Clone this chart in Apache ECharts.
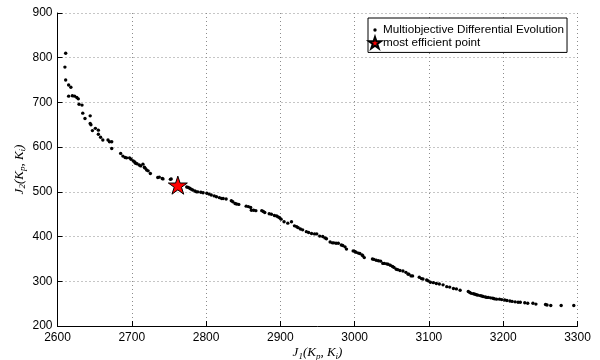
<!DOCTYPE html>
<html>
<head>
<meta charset="utf-8">
<script src="https://cdn.jsdelivr.net/npm/echarts@6/dist/echarts.min.js"></script>
<style>html,body{margin:0;padding:0;background:#fff}#c{width:600px;height:360px}</style>
</head>
<body>
<div id="c"></div>
<script>
// ---- data ----
const xTicks = [2600, 2700, 2800, 2900, 3000, 3100, 3200, 3300];
const yTicks = [200, 300, 400, 500, 600, 700, 800, 900];
const seriesNames = ['Multiobjective Differential Evolution', 'most efficient point'];
const paretoJ1 = [2611,2610,2611,2615,2618,2615,2620,2623,2626,2628,2629,2633,2634,2637,2644,2644,2645,2647,2651,2655,2655,2658,2661,2668,2670,2673,2673,
2685,2688,2691,2693,2697,2699,2702,2704,2705,2707,2710,2712,2715,2717,2718,2720,2722,2725,2735,2737,2741,2742,2752,2753,
2774,2776,2778,2780,2782,2785,2787,2789,2793,2796,2801,2804,2807,2811,2814,2818,2821,2823,2827,2834,2836,2839,2841,2844,2854,2857,2860,2861,2864,2867,2875,2877,2879,2885,2888,2892,2895,2897,2899,2901,2905,2910,2915,2919,2922,2924,2927,2930,2935,2938,2942,2946,2949,2953,2957,2960,2962,2967,2970,2972,2975,2978,2982,2984,2987,2989,2998,3000,3002,3005,3007,3010,3011,3013,3024,3026,3029,3032,3035,3038,3040,3043,3045,3048,3051,3053,3056,3058,3061,3065,3069,3072,3073,3076,3078,3087,3090,3092,3097,3099,3102,3106,3110,3114,3119,3124,3128,3133,3137,3142,3153,3155,3157,3160,3162,3164,3166,3169,3171,3173,3176,3178,3180,3183,3186,3188,3191,3195,3198,3202,3205,3209,3212,3216,3220,3223,3229,3233,3240,3244,3257,3259,3264,3278,3295];
const paretoJ2 = [810,779,750,739,734,714,715,714,711,708,696,694,676,664,670,653,650,637,642,638,629,622,616,616,612,612,597,
586,580,577,576,576,573,569,567,564,563,560,558,562,555,553,549,547,541,532,533,530,529,528,529,
511,510,508,506,504,502,500,500,499,498,497,495,493,491,489,487,485,485,484,480,478,474,473,472,468,467,465,459,459,458,458,456,454,451,450,447,446,444,442,439,433,430,433,424,422,420,417,415,411,409,407,406,406,401,400,397,395,388,386,386,385,385,381,380,377,372,368,367,365,363,362,359,357,353,350,349,347,346,345,340,340,339,338,336,333,331,327,326,324,323,320,316,316,312,312,309,306,305,303,301,298,297,295,294,292,288,287,284,283,280,277,275,273,272,271,270,269,268,267,266,265,264,264,263,262,261,260,260,259,258,257,256,255,254,253,253,252,251,251,249,248,247,246,246,246];
const bestJ1 = [2762];
const bestJ2 = [515];

// ---- build ----
const starPath = 'path://M50 0 L61.23 34.55 L97.55 34.55 L68.17 55.9 L79.39 90.45 L50 69.1 L20.61 90.45 L31.83 55.9 L2.45 34.55 L38.77 34.55 Z';
const dotPath = 'path://M0 0 M12 12 M6 4.3 A1.7 1.7 0 1 1 6 7.7 A1.7 1.7 0 1 1 6 4.3 Z';
const pareto = paretoJ1.map((v, i) => [v, paretoJ2[i]]);
const best = bestJ1.map((v, i) => [v, bestJ2[i]]);

const sansFont = 'Liberation Sans, Arial, sans-serif';
const serif = 'Liberation Serif, Times New Roman, serif';
const richName = {
  m: {fontFamily: serif, fontStyle: 'italic', fontSize: 13, color: '#000', lineHeight: 16, verticalAlign: 'middle'},
  s: {fontFamily: serif, fontStyle: 'italic', fontSize: 9, color: '#000', lineHeight: 9, verticalAlign: 'bottom'}
};
const gridLine = {show: true, lineStyle: {color: '#8c8c8c', width: 1, type: [1, 3]}};
const plain = v => String(v);

const chart = echarts.init(document.getElementById('c'), null, {renderer: 'canvas'});
chart.setOption({
  animation: false,
  backgroundColor: '#fff',
  grid: {left: 57.5, right: 22.5, top: 13, bottom: 34, containLabel: false, outerBoundsMode: 'none'},
  xAxis: {
    type: 'value', min: xTicks[0], max: xTicks[xTicks.length - 1], interval: 100,
    axisLine: {show: true, onZero: false, lineStyle: {color: '#000', width: 1}},
    axisTick: {show: true, inside: true, length: 5, lineStyle: {color: '#000'}},
    axisLabel: {margin: 6, fontSize: 12, fontFamily: sansFont, color: '#000', formatter: plain},
    splitLine: gridLine,
    name: '{m|J}{s|1}{m|(K}{s|p}{m|, K}{s|i}{m|)}',
    nameLocation: 'middle', nameGap: 19, nameMoveOverlap: false,
    nameTextStyle: {rich: richName}
  },
  yAxis: {
    type: 'value', min: yTicks[0], max: yTicks[yTicks.length - 1], interval: 100,
    axisLine: {show: true, onZero: false, lineStyle: {color: '#000', width: 1}},
    axisTick: {show: true, inside: true, length: 5, lineStyle: {color: '#000'}},
    axisLabel: {margin: 5, fontSize: 12, fontFamily: sansFont, color: '#000', formatter: plain},
    splitLine: gridLine,
    name: '{m|J}{s|2}{m|(K}{s|p}{m|, K}{s|i}{m|)}',
    nameLocation: 'middle', nameGap: 30, nameRotate: 90, nameMoveOverlap: false,
    nameTextStyle: {rich: richName}
  },
  legend: {
    left: 368, top: 18, orient: 'vertical',
    backgroundColor: '#fff', borderColor: '#000', borderWidth: 1, borderRadius: 0,
    padding: [6, 3, 3, 0], itemGap: 0, itemWidth: 12, itemHeight: 12,
    textStyle: {fontSize: 11.7, fontFamily: sansFont, color: '#000', padding: [0, 0, 0, -3]},
    data: [{name: seriesNames[0], icon: dotPath}, {name: seriesNames[1], icon: starPath}]
  },
  series: [
    {name: seriesNames[0], type: 'scatter', data: pareto, symbol: 'circle', symbolSize: 3.4,
     itemStyle: {color: '#000', opacity: 1}, z: 2},
    {name: seriesNames[1], type: 'scatter', data: best, symbol: starPath, symbolSize: 19, symbolKeepAspect: true,
     itemStyle: {color: '#ff0000', borderColor: '#000', borderWidth: 1, opacity: 1}, z: 3}
  ]
});
</script>
</body>
</html>
